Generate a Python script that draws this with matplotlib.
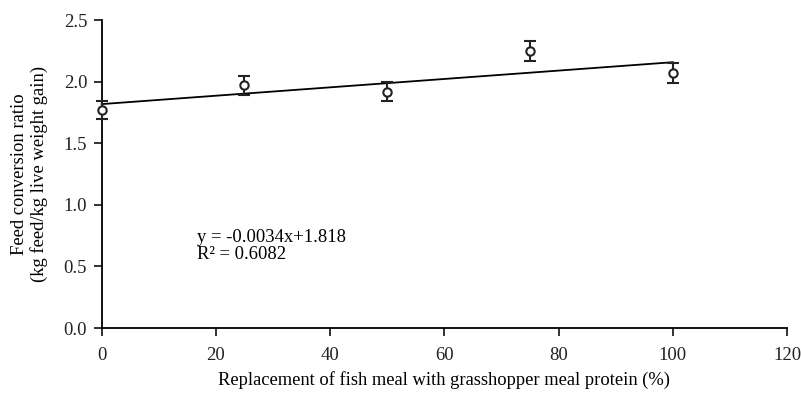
import matplotlib.pyplot as plt

plt.rcParams['font.family'] = ['Liberation Serif', 'DejaVu Serif']

# Replacement level (%) and feed conversion ratio
replacement = [0, 25, 50, 75, 100]
fcr = [1.77, 1.97, 1.92, 2.25, 2.07]
fcr_err = [0.075, 0.08, 0.08, 0.08, 0.08]

# Fitted trend line end points
trend_x = [0, 100]
trend_y = [1.818, 2.158]

fig = plt.figure(figsize=(8.01, 3.94), dpi=100)
ax = fig.add_axes([0.127, 0.1675, 0.8555, 0.7815])

ax.plot(trend_x, trend_y, color='black', lw=1.3, zorder=2, clip_on=False)
ax.errorbar(replacement, fcr, yerr=fcr_err, fmt='o', mfc='white', mec='#222222',
            mew=1.5, ms=6, ecolor='#222222', elinewidth=1.5, capsize=4.2,
            capthick=1.5, zorder=3, clip_on=False)

ax.text(16.6, 0.665, 'y = -0.0034x+1.818\nR\u00b2 = 0.6082', fontsize=13.4,
        linespacing=1.0, va='center', ha='left')

ax.set_xlim(0, 120)
ax.set_ylim(0, 2.5)
ax.set_xticks([0, 20, 40, 60, 80, 100, 120])
ax.set_yticks([0.0, 0.5, 1.0, 1.5, 2.0, 2.5])
ax.set_yticklabels(['0.0', '0.5', '1.0', '1.5', '2.0', '2.5'])

for side in ['top', 'right']:
    ax.spines[side].set_visible(False)
for side in ['left', 'bottom']:
    ax.spines[side].set_linewidth(1.3)
ax.tick_params(axis='both', direction='out', length=6, width=1.3,
               labelsize=13.5, colors='#222222')
ax.tick_params(axis='y', pad=4.5)
ax.tick_params(axis='x', pad=8)

ax.set_xlabel('Replacement of fish meal with grasshopper meal protein (%)',
              fontsize=13.3, labelpad=5)
ax.set_ylabel('Feed conversion ratio\n(kg feed/kg live weight gain)',
              fontsize=13.4, labelpad=11)

fig.savefig('out.png', dpi=100)
